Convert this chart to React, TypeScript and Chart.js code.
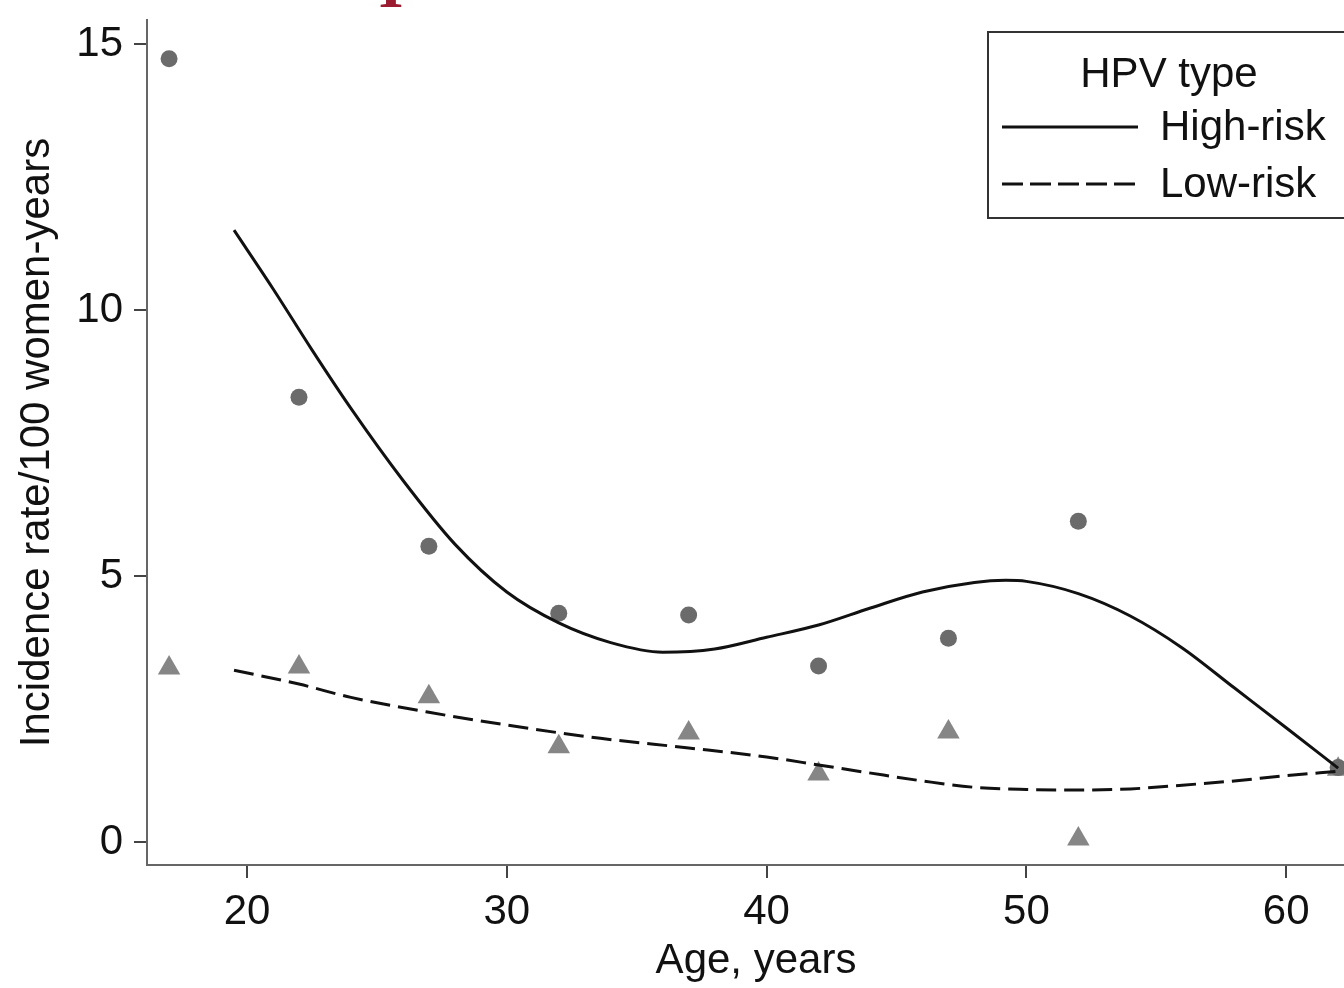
import React, { useEffect, useRef } from 'react';
import { Chart, registerables } from 'chart.js';

Chart.register(...registerables);

// Observed incidence by age group (points)
const ageGroups = [17, 22, 27, 32, 37, 42, 47, 52, 62];
const highRiskObserved = [14.72, 8.36, 5.56, 4.3, 4.27, 3.31, 3.83, 6.03, 1.4];
const lowRiskObserved = [3.27, 3.29, 2.73, 1.79, 2.05, 1.28, 2.07, 0.06, 1.37];

// Fitted curves
const highFitAges = [19.5, 21, 22.5, 24, 26, 28, 30, 32, 34, 36, 38, 40, 42, 44, 46, 48, 49.2, 50, 52, 54, 56, 58, 60, 62];
const highRiskFit = [11.5, 10.4, 9.25, 8.15, 6.8, 5.6, 4.7, 4.12, 3.75, 3.57, 3.63, 3.85, 4.08, 4.4, 4.7, 4.88, 4.92, 4.9, 4.67, 4.25, 3.65, 2.9, 2.15, 1.39];
const lowFitAges = [19.5, 22, 24, 27, 30, 33.6, 37, 40, 42, 44.5, 46, 48, 50, 52, 54, 56, 58, 60, 62];
const lowRiskFit = [3.23, 2.97, 2.72, 2.44, 2.2, 1.95, 1.77, 1.6, 1.45, 1.26, 1.15, 1.03, 0.99, 0.98, 1.0, 1.07, 1.15, 1.25, 1.33];

const xTicks = [20, 30, 40, 50, 60];
const yTicks = [0, 5, 10, 15];

const legendTitle = 'HPV type';
const seriesNames = ['High-risk', 'Low-risk'];
const xTitle = 'Age, years';
const yTitle = 'Incidence rate/100 women-years';

const FONT = "'Liberation Sans', Arial, sans-serif";
const CANVAS_W = 1378;
const AREA_RIGHT = 1366;

const toXY = (xs: number[], ys: number[]) => xs.map((x, i) => ({ x, y: ys[i] }));

const zeroPad = (s: any) => {
  s.paddingTop = 0;
  s.paddingBottom = 0;
  s.paddingLeft = 0;
  s.paddingRight = 0;
};

const legendPlugin = {
  id: 'hpvLegend',
  afterDraw(chart: any) {
    const ctx = chart.ctx;
    ctx.save();
    ctx.strokeStyle = '#333';
    ctx.lineWidth = 2;
    ctx.fillStyle = '#fff';
    ctx.fillRect(988, 32, 390, 186);
    ctx.strokeRect(988, 32, 390, 186);
    ctx.fillStyle = '#111';
    ctx.font = `42px ${FONT}`;
    ctx.textBaseline = 'alphabetic';
    ctx.textAlign = 'center';
    ctx.fillText(legendTitle, 1169, 87);
    ctx.textAlign = 'left';
    ctx.fillText(seriesNames[0], 1160, 140);
    ctx.fillText(seriesNames[1], 1160, 197);
    ctx.strokeStyle = '#111';
    ctx.lineWidth = 3;
    ctx.beginPath();
    ctx.moveTo(1002, 127);
    ctx.lineTo(1138, 127);
    ctx.stroke();
    ctx.setLineDash([21, 7]);
    ctx.beginPath();
    ctx.moveTo(1002, 184);
    ctx.lineTo(1138, 184);
    ctx.stroke();
    ctx.setLineDash([]);
    // cropped fragment of a title above the figure
    ctx.fillStyle = '#9b1b30';
    ctx.font = `bold 64px 'Liberation Serif', serif`;
    ctx.textAlign = 'center';
    ctx.fillText('I', 391, 7);
    ctx.restore();
  },
};

export default function App() {
  const ref = useRef<HTMLCanvasElement | null>(null);

  useEffect(() => {
    if (!ref.current) return;
    const chart = new Chart(ref.current, {
      type: 'scatter',
      data: {
        datasets: [
          {
            label: seriesNames[0] + ' fit',
            data: toXY(highFitAges, highRiskFit),
            showLine: true,
            borderColor: '#111',
            borderWidth: 3,
            pointRadius: 0,
            cubicInterpolationMode: 'monotone',
            clip: false,
          } as any,
          {
            label: seriesNames[1] + ' fit',
            data: toXY(lowFitAges, lowRiskFit),
            showLine: true,
            borderColor: '#111',
            borderWidth: 3,
            borderDash: [20, 8],
            pointRadius: 0,
            cubicInterpolationMode: 'monotone',
            clip: false,
          } as any,
          {
            label: seriesNames[0],
            data: toXY(ageGroups, highRiskObserved),
            pointStyle: 'circle',
            pointRadius: 8.5,
            backgroundColor: '#6b6b6b',
            borderWidth: 0,
            clip: false,
          } as any,
          {
            label: seriesNames[1],
            data: toXY(ageGroups, lowRiskObserved),
            pointStyle: 'triangle',
            pointRadius: 13,
            backgroundColor: '#868686',
            borderWidth: 0,
            clip: false,
          } as any,
        ],
      },
      options: {
        responsive: false,
        animation: false,
        devicePixelRatio: 1,
        layout: { padding: { top: 20, left: 0, right: 0, bottom: 0 } },
        plugins: {
          legend: { display: false },
          tooltip: { enabled: false },
        },
        scales: {
          x: {
            type: 'linear',
            min: 16.15,
            max: 16.15 + (AREA_RIGHT - 147) / 26,
            afterBuildTicks: (s: any) => {
              s.ticks = xTicks.map((v) => ({ value: v }));
            },
            afterFit: (s: any) => {
              s.height = 123;
              zeroPad(s);
            },
            ticks: {
              font: { family: FONT, size: 42 },
              color: '#111',
              padding: 9,
              maxRotation: 0,
            },
            grid: {
              drawOnChartArea: false,
              drawTicks: true,
              tickLength: 13,
              color: '#444',
              lineWidth: 2,
            },
            border: { display: true, color: '#666', width: 2 },
            title: {
              display: true,
              text: xTitle,
              font: { family: FONT, size: 42 },
              color: '#111',
              padding: { top: 0, bottom: 1 },
            },
          },
          y: {
            type: 'linear',
            min: -0.43,
            max: 15.45,
            afterBuildTicks: (s: any) => {
              s.ticks = yTicks.map((v) => ({ value: v }));
            },
            afterFit: (s: any) => {
              s.width = 147;
              zeroPad(s);
            },
            ticks: {
              font: { family: FONT, size: 42 },
              color: '#111',
              padding: 11,
            },
            grid: {
              drawOnChartArea: false,
              drawTicks: true,
              tickLength: 13,
              color: '#444',
              lineWidth: 2,
            },
            border: { display: true, color: '#666', width: 2 },
            title: {
              display: true,
              text: yTitle,
              font: { family: FONT, size: 42 },
              color: '#111',
              padding: { top: 12, bottom: 0 },
            },
          },
        },
      },
      plugins: [legendPlugin],
    } as any);
    return () => chart.destroy();
  }, []);

  return (
    <div style={{ position: 'absolute', left: 0, top: 0, width: 1344, height: 988, background: '#fff', overflow: 'hidden' }}>
      <canvas ref={ref} width={CANVAS_W} height={988} style={{ display: 'block' }} />
    </div>
  );
}
